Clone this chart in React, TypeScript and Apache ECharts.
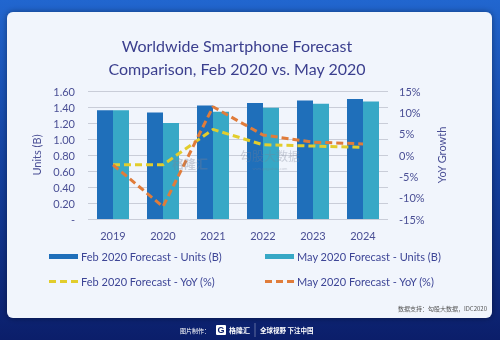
import React, { useEffect, useRef } from 'react';
import * as echarts from 'echarts';

const years = ['2019', '2020', '2021', '2022', '2023', '2024'];
const febUnits = [1.36, 1.33, 1.42, 1.45, 1.48, 1.5];
const mayUnits = [1.36, 1.2, 1.34, 1.39, 1.44, 1.47];
const febYoY = [-2.3, -2.3, 6.0, 2.4, 2.1, 1.8];
const mayYoY = [-2.3, -12.1, 11.3, 4.7, 3.0, 2.6];
const seriesNames = [
  'Feb 2020 Forecast - Units (B)',
  'May 2020 Forecast - Units (B)',
  'Feb 2020 Forecast - YoY (%)',
  'May 2020 Forecast - YoY (%)',
];
const titleLines = ['Worldwide Smartphone Forecast', 'Comparison, Feb 2020 vs. May 2020'];
const sourceText = '数据支持：勾股大数据，IDC2020';

const FONT = 'Lato, "Noto Sans", sans-serif';
const LABEL = '#4a4f95';
const C_FEB = '#1f6fba';
const C_MAY = '#37a8c6';
const C_FEB_Y = '#e2cd2c';
const C_MAY_Y = '#e07c3a';
const COLORS = [C_FEB, C_MAY, C_FEB_Y, C_MAY_Y];
const DASH_ICON = 'path://M0,0h7v3h-7z M11,0h7v3h-7z M22,0h7v3h-7z';

export default function App() {
  const ref = useRef<HTMLDivElement>(null);
  useEffect(() => {
    const chart = echarts.init(ref.current!, null, { renderer: 'svg' });
    const legendPos = [
      { left: 49, top: 251 },
      { left: 265, top: 251 },
      { left: 49, top: 276 },
      { left: 265, top: 276 },
    ];
    chart.setOption({
      animation: false,
      textStyle: { fontFamily: FONT },
      graphic: [
        {
          type: 'rect', z: -10, silent: true,
          shape: { x: 0, y: 0, width: 500, height: 340 },
          style: {
            fill: new echarts.graphic.LinearGradient(0, 0, 0, 1, [
              { offset: 0, color: '#2166cf' },
              { offset: 0.5, color: '#13409e' },
              { offset: 1, color: '#0b1e6a' },
            ]),
          },
        },
        {
          type: 'rect', z: -9, silent: true,
          shape: { x: 7, y: 12, width: 485, height: 306, r: 6 },
          style: { fill: '#f1f5fc', shadowBlur: 6, shadowColor: 'rgba(0,0,30,0.4)' },
        },
        {
          type: 'text', z: 10, x: 237, y: 34,
          style: {
            text: titleLines.join('\n'), align: 'center', verticalAlign: 'top',
            fill: '#3b3f8e', font: '16px ' + FONT, lineHeight: 23,
          },
        },
        // watermark
        {
          type: 'text', z: 20, x: 190, y: 163, silent: true,
          style: { text: '格隆汇', align: 'center', verticalAlign: 'middle', fill: 'rgba(120,130,150,0.35)', font: 'bold 12px "Noto Sans CJK SC"' },
        },
        {
          type: 'text', z: 20, x: 270, y: 155, silent: true,
          style: { text: '勾股大数据', align: 'center', verticalAlign: 'middle', fill: 'rgba(120,130,150,0.35)', font: '12px "Noto Sans CJK SC"' },
        },
        {
          type: 'text', z: 20, x: 270, y: 168, silent: true,
          style: { text: 'www.gogudata.com', align: 'center', verticalAlign: 'middle', fill: 'rgba(120,130,150,0.35)', font: '4px sans-serif' },
        },
        {
          type: 'text', z: 10, x: 487, y: 308,
          style: { text: sourceText, align: 'right', verticalAlign: 'middle', fill: '#555', font: '6px "Noto Sans CJK SC"' },
        },
        {
          type: 'text', z: 10, x: 210, y: 330,
          style: { text: '图片制作：', align: 'right', verticalAlign: 'middle', fill: '#ffffff', font: '6px "Noto Sans CJK SC"' },
        },
        {
          type: 'rect', z: 10, shape: { x: 216, y: 325, width: 10, height: 10, r: 1 },
          style: { fill: '#ffffff' },
        },
        {
          type: 'text', z: 11, x: 221, y: 330,
          style: { text: 'G', align: 'center', verticalAlign: 'middle', fill: '#0b1e6a', font: 'bold 9px sans-serif' },
        },
        {
          type: 'text', z: 10, x: 229, y: 330,
          style: { text: '格隆汇', align: 'left', verticalAlign: 'middle', fill: '#ffffff', font: 'bold 7px "Noto Sans CJK SC"' },
        },
        {
          type: 'line', z: 10, shape: { x1: 255, y1: 323, x2: 255, y2: 337 },
          style: { stroke: 'rgba(255,255,255,0.5)', lineWidth: 0.7 },
        },
        {
          type: 'text', z: 10, x: 260, y: 330,
          style: { text: '全球视野 下注中国', align: 'left', verticalAlign: 'middle', fill: '#ffffff', font: 'bold 6.5px "Noto Sans CJK SC"' },
        },
      ],
      legend: seriesNames.map((n, i) => ({
        data: [{ name: n, icon: i < 2 ? 'rect' : DASH_ICON }],
        left: legendPos[i].left,
        top: legendPos[i].top,
        itemWidth: 29,
        itemHeight: i < 2 ? 5 : 3,
        itemGap: 4,
        padding: 0,
        itemStyle: { color: COLORS[i], borderWidth: 0 },
        lineStyle: { width: 0 },
        textStyle: { color: '#3d4596', fontSize: 11, fontFamily: FONT, padding: [0, 0, 0, -2] },
      })),
      grid: { left: 88, right: 112, top: 91, bottom: 121 },
      xAxis: {
        type: 'category',
        data: years,
        axisLine: { show: false },
        axisTick: { show: false },
        axisLabel: { color: LABEL, fontSize: 11, margin: 11 },
      },
      yAxis: [
        {
          type: 'value', min: 0, max: 1.6, interval: 0.2,
          name: 'Units (B)', nameLocation: 'middle', nameGap: 42,
          nameTextStyle: { color: LABEL, fontSize: 11 },
          axisLine: { show: false }, axisTick: { show: false },
          axisLabel: {
            color: LABEL, fontSize: 11, margin: 13,
            formatter: (v: number) => (v === 0 ? '-' : v.toFixed(2)),
          },
          splitLine: { lineStyle: { color: '#c9cdd8', width: 1 } },
        },
        {
          type: 'value', min: -15, max: 15, interval: 5,
          name: 'YoY Growth', nameLocation: 'middle', nameGap: 39,
          nameTextStyle: { color: LABEL, fontSize: 11 },
          axisLine: { show: false }, axisTick: { show: false },
          axisLabel: { color: LABEL, fontSize: 11, margin: 11, formatter: (v: number) => v + '%' },
          splitLine: { show: false },
        },
      ],
      series: [
        { name: seriesNames[0], type: 'bar', data: febUnits, barWidth: 16, barGap: '0%', itemStyle: { color: C_FEB } },
        { name: seriesNames[1], type: 'bar', data: mayUnits, barWidth: 16, barGap: '0%', itemStyle: { color: C_MAY } },
        {
          name: seriesNames[2], type: 'line', yAxisIndex: 1, data: febYoY, symbol: 'none',
          itemStyle: { color: C_FEB_Y },
          lineStyle: { color: C_FEB_Y, width: 3, type: [7, 4] }, z: 5,
        },
        {
          name: seriesNames[3], type: 'line', yAxisIndex: 1, data: mayYoY, symbol: 'none',
          itemStyle: { color: C_MAY_Y },
          lineStyle: { color: C_MAY_Y, width: 3, type: [7, 4] }, z: 6,
        },
      ],
    });
    return () => chart.dispose();
  }, []);
  return <div ref={ref} style={{ position: 'fixed', left: 0, top: 0, width: 500, height: 340 }} />;
}
